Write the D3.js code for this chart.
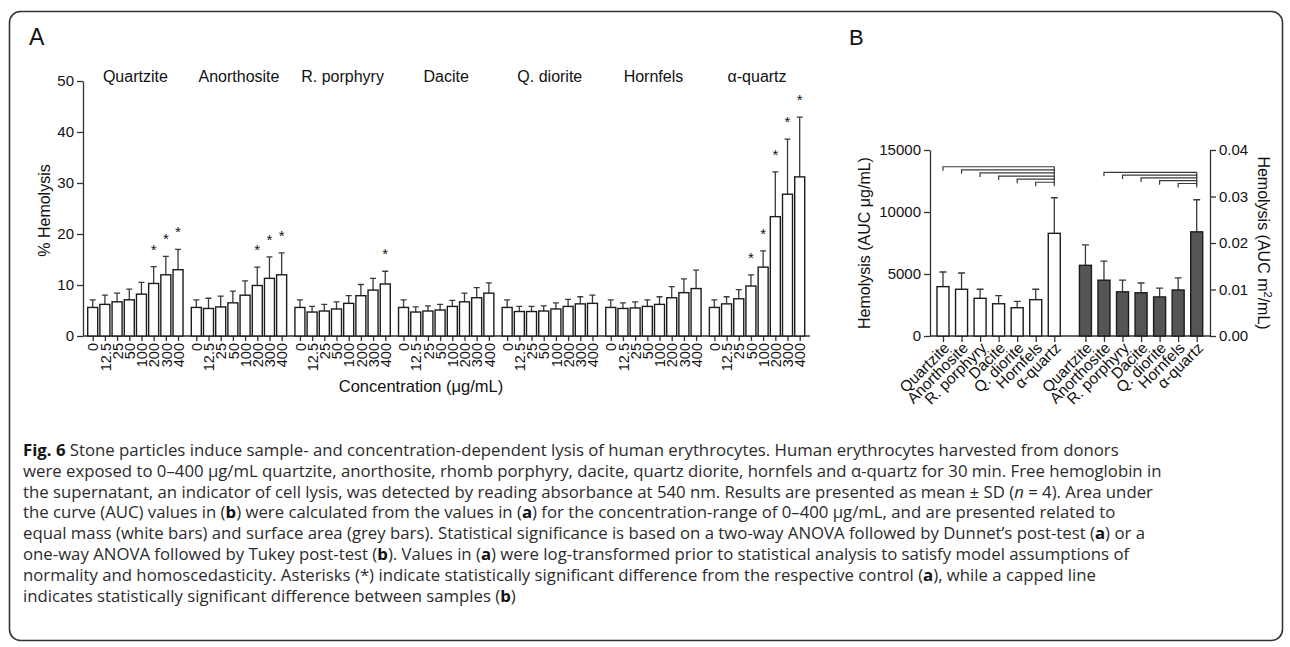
<!DOCTYPE html>
<html>
<head>
<meta charset="utf-8">
<script src="https://cdn.jsdelivr.net/npm/d3@7"></script>
<style>
  body { margin: 0; background: #fff; }
  svg text { font-family: "Liberation Sans", Arial, sans-serif; fill: #111; }
  .caption text { font-family: "Open Sans", "Noto Sans", sans-serif; fill: #2b2b2b; }
</style>
</head>
<body>
<svg id="fig" width="1290" height="647"></svg>
<script>
// ---- Panel A: % hemolysis per sample and concentration (mean, SD) ----
const samples = ["Quartzite", "Anorthosite", "R. porphyry", "Dacite", "Q. diorite", "Hornfels", "α-quartz"];
const concentrations = ["0", "12.5", "25", "50", "100", "200", "300", "400"];
const quartziteMean   = [5.6, 6.2, 6.7, 7.1, 8.2, 10.3, 12.0, 13.0];
const anorthositeMean = [5.6, 5.4, 5.7, 6.5, 8.0, 9.9, 11.3, 12.0];
const porphyryMean    = [5.6, 4.7, 4.9, 5.3, 6.4, 7.9, 9.0, 10.2];
const daciteMean      = [5.6, 4.7, 4.9, 5.1, 5.8, 6.7, 7.5, 8.4];
const dioriteMean     = [5.6, 4.8, 4.8, 4.9, 5.3, 5.8, 6.3, 6.4];
const hornfelsMean    = [5.6, 5.4, 5.5, 5.8, 6.2, 7.5, 8.5, 9.3];
const alphaQuartzMean = [5.6, 6.3, 7.3, 9.8, 13.5, 23.4, 27.8, 31.2];
const quartziteSD   = [1.5, 1.8, 1.7, 2.1, 2.3, 3.3, 3.6, 4.0];
const anorthositeSD = [1.5, 2.0, 2.1, 2.3, 2.8, 3.6, 4.2, 4.3];
const porphyrySD    = [1.5, 1.1, 1.3, 1.4, 1.5, 2.2, 2.3, 2.5];
const daciteSD      = [1.5, 1.0, 1.0, 1.1, 1.2, 1.7, 2.0, 2.0];
const dioriteSD     = [1.5, 1.0, 1.0, 1.0, 1.2, 1.4, 1.4, 1.6];
const hornfelsSD    = [1.5, 1.1, 1.2, 1.3, 1.5, 2.2, 2.7, 3.6];
const alphaQuartzSD = [1.5, 1.4, 1.8, 2.2, 3.2, 8.8, 10.8, 11.7];
// 1 = significantly different from the respective control
const quartziteSig   = [0, 0, 0, 0, 0, 1, 1, 1];
const anorthositeSig = [0, 0, 0, 0, 0, 1, 1, 1];
const porphyrySig    = [0, 0, 0, 0, 0, 0, 0, 1];
const daciteSig      = [0, 0, 0, 0, 0, 0, 0, 0];
const dioriteSig     = [0, 0, 0, 0, 0, 0, 0, 0];
const hornfelsSig    = [0, 0, 0, 0, 0, 0, 0, 0];
const alphaQuartzSig = [0, 0, 0, 1, 1, 1, 1, 1];
const yTicksA = [0, 10, 20, 30, 40, 50];

// ---- Panel B: AUC per equal mass (white) and per surface area (grey) ----
const aucMass     = [3980, 3770, 3040, 2600, 2280, 2930, 8280];
const aucMassSD   = [1180, 1310, 730, 650, 520, 840, 2870];
const aucArea     = [0.0152, 0.0120, 0.0095, 0.0093, 0.0084, 0.0099, 0.0224];
const aucAreaSD   = [0.0044, 0.0041, 0.0025, 0.0021, 0.0019, 0.0026, 0.0069];
const yTicksBLeft  = [0, 5000, 10000, 15000];
const yTicksBRight = [0, 0.01, 0.02, 0.03, 0.04];
// capped lines: each sample vs α-quartz
const massBracketFrom  = [0, 1, 2, 3, 4, 5];
const massBracketLevel = [13650, 13400, 13150, 12900, 12650, 12400];
const areaBracketFrom  = [1, 2, 3, 4, 5];
const areaBracketLevel = [0.0352, 0.0346, 0.0340, 0.0334, 0.0328];
const bracketTo = 6;

const meansA = [quartziteMean, anorthositeMean, porphyryMean, daciteMean, dioriteMean, hornfelsMean, alphaQuartzMean];
const sdsA   = [quartziteSD, anorthositeSD, porphyrySD, daciteSD, dioriteSD, hornfelsSD, alphaQuartzSD];
const sigsA  = [quartziteSig, anorthositeSig, porphyrySig, daciteSig, dioriteSig, hornfelsSig, alphaQuartzSig];

const svg = d3.select("#fig");
const ink = "#1c1c1c";
const lineInk = "#333";

// outer rounded frame
svg.append("rect")
  .attr("x", 9.5).attr("y", 11.5).attr("width", 1273).attr("height", 629).attr("rx", 11)
  .attr("fill", "none").attr("stroke", "#333").attr("stroke-width", 1.6);

function styleAxis(g, size) {
  g.attr("font-family", null).attr("font-size", null);
  g.selectAll("text").style("font-size", size + "px").attr("fill", "#111");
  g.selectAll("line").attr("stroke", lineInk).attr("stroke-width", 1.3);
  g.select(".domain").attr("stroke", lineInk).attr("stroke-width", 1.3);
}

// ================= Panel A =================
const plotA = { left: 83, right: 810, top: 81, bottom: 336 };
const groupStride = 8.5;
const yA = d3.scaleLinear().domain([0, 50]).range([plotA.bottom, plotA.top]);
const xA = d3.scaleLinear().domain([0, 58]).range([92.7, 799.7]);
const barWA = 10;

const rowsA = samples.flatMap((s, g) => concentrations.map((c, i) => ({
  g, i, slot: g * groupStride + i, mean: meansA[g][i], sd: sdsA[g][i], sig: sigsA[g][i]
})));

const gA = svg.append("g");

gA.append("text").attr("x", 29).attr("y", 45).style("font-size", "23px").text("A");

// y axis
const axYA = gA.append("g").attr("transform", `translate(${plotA.left},0)`)
  .call(d3.axisLeft(yA).tickValues(yTicksA).tickSize(6).tickPadding(3).tickSizeOuter(0));
styleAxis(axYA, 15);

// x axis with a tick under each bar
const axXA = gA.append("g").attr("transform", `translate(0,${plotA.bottom})`)
  .call(d3.axisBottom(xA).tickValues(rowsA.map(d => d.slot))
    .tickFormat((v, k) => concentrations[k % concentrations.length]).tickSize(5).tickSizeOuter(0));
styleAxis(axXA, 14.5);
axXA.select(".domain").remove();
axXA.selectAll(".tick text")
  .attr("transform", "rotate(-90)").attr("text-anchor", "end")
  .attr("x", -7).attr("y", 0).attr("dy", "0.36em");
gA.append("line").attr("x1", plotA.left).attr("x2", plotA.right)
  .attr("y1", plotA.bottom).attr("y2", plotA.bottom)
  .attr("stroke", lineInk).attr("stroke-width", 1.3);

// error bars
const errA = gA.append("g").attr("stroke", "#3a3a3a").attr("stroke-width", 1.3).attr("fill", "none");
errA.selectAll("path").data(rowsA).join("path")
  .attr("d", d => {
    const x = xA(d.slot), y0 = yA(d.mean), y1 = yA(d.mean + d.sd);
    return `M${x},${y0}V${y1}M${x - 3},${y1}H${x + 3}`;
  });

// bars
gA.append("g").selectAll("rect").data(rowsA).join("rect")
  .attr("x", d => xA(d.slot) - barWA / 2).attr("width", barWA)
  .attr("y", d => yA(d.mean)).attr("height", d => yA(0) - yA(d.mean))
  .attr("fill", "#fff").attr("stroke", ink).attr("stroke-width", 1.4);

// significance asterisks
gA.append("g").selectAll("text").data(rowsA.filter(d => d.sig)).join("text")
  .attr("x", d => xA(d.slot)).attr("y", d => yA(d.mean + d.sd) - 20 + 8)
  .attr("text-anchor", "middle").style("font-size", "15px").text("*");

// sample names
gA.append("g").selectAll("text").data(samples).join("text")
  .attr("x", (s, g) => xA(g * groupStride + 3.5)).attr("y", 82)
  .attr("text-anchor", "middle").style("font-size", "16px").text(d => d);

// axis titles
gA.append("text").attr("transform", `translate(50,${(plotA.top + plotA.bottom) / 2 + 2}) rotate(-90)`)
  .attr("text-anchor", "middle").style("font-size", "16px").text("% Hemolysis");
gA.append("text").attr("x", 421).attr("y", 392).attr("text-anchor", "middle")
  .style("font-size", "16.5px").text("Concentration (μg/mL)");

// ================= Panel B =================
const plotB = { left: 930, right: 1210, top: 150, bottom: 336 };
const greyOffset = 7.68;
const yBL = d3.scaleLinear().domain([0, 15000]).range([plotB.bottom, plotB.top]);
const yBR = d3.scaleLinear().domain([0, 0.04]).range([plotB.bottom, plotB.top]);
const xB = d3.scaleLinear().domain([0, 6 + greyOffset]).range([943, 1196.7]);
const barWB = 12;

const rowsB = [
  ...samples.map((s, i) => ({ i, slot: i, mean: aucMass[i], sd: aucMassSD[i], y: yBL, fill: "#fff" })),
  ...samples.map((s, i) => ({ i, slot: i + greyOffset, mean: aucArea[i], sd: aucAreaSD[i], y: yBR, fill: "#555" }))
];

const gB = svg.append("g");
gB.append("text").attr("x", 849).attr("y", 45).style("font-size", "22px").text("B");

const axYBL = gB.append("g").attr("transform", `translate(${plotB.left},0)`)
  .call(d3.axisLeft(yBL).tickValues(yTicksBLeft).tickFormat(d3.format("d")).tickSize(6).tickPadding(3).tickSizeOuter(0));
styleAxis(axYBL, 15);

const axYBR = gB.append("g").attr("transform", `translate(${plotB.right},0)`)
  .call(d3.axisRight(yBR).tickValues(yTicksBRight).tickFormat(d3.format(".2f")).tickSize(6).tickPadding(3).tickSizeOuter(0));
styleAxis(axYBR, 15);

const axXB = gB.append("g").attr("transform", `translate(0,${plotB.bottom})`)
  .call(d3.axisBottom(xB).tickValues(rowsB.map(d => d.slot))
    .tickFormat((v, k) => samples[k % samples.length]).tickSize(6).tickSizeOuter(0));
styleAxis(axXB, 15.5);
axXB.select(".domain").remove();
axXB.selectAll(".tick text")
  .attr("transform", "translate(3,9) rotate(-45)").attr("text-anchor", "end")
  .attr("x", 0).attr("y", 0).attr("dy", "0.36em");
gB.append("line").attr("x1", plotB.left).attr("x2", plotB.right)
  .attr("y1", plotB.bottom).attr("y2", plotB.bottom)
  .attr("stroke", lineInk).attr("stroke-width", 1.3);

// error bars
gB.append("g").attr("stroke", "#3a3a3a").attr("stroke-width", 1.3).attr("fill", "none")
  .selectAll("path").data(rowsB).join("path")
  .attr("d", d => {
    const x = xB(d.slot), y0 = d.y(d.mean), y1 = d.y(d.mean + d.sd);
    return `M${x},${y0}V${y1}M${x - 3.5},${y1}H${x + 3.5}`;
  });

// bars
gB.append("g").selectAll("rect").data(rowsB).join("rect")
  .attr("x", d => xB(d.slot) - barWB / 2).attr("width", barWB)
  .attr("y", d => d.y(d.mean)).attr("height", d => d.y(0) - d.y(d.mean))
  .attr("fill", d => d.fill).attr("stroke", ink).attr("stroke-width", 1.4);

// capped lines between samples
const bracketG = gB.append("g").attr("stroke", "#3a3a3a").attr("stroke-width", 1.2).attr("fill", "none");
const bracketPath = (x0, x1, y) => `M${x0},${y + 4}V${y}H${x1}V${y + 4}`;
bracketG.selectAll("path.mass").data(massBracketFrom).join("path").attr("class", "mass")
  .attr("d", (f, k) => bracketPath(xB(f), xB(bracketTo), yBL(massBracketLevel[k])));
bracketG.selectAll("path.area").data(areaBracketFrom).join("path").attr("class", "area")
  .attr("d", (f, k) => bracketPath(xB(f + greyOffset), xB(bracketTo + greyOffset), yBR(areaBracketLevel[k])));

// axis titles
const midB = (plotB.top + plotB.bottom) / 2;
gB.append("text").attr("transform", `translate(870,${midB}) rotate(-90)`)
  .attr("text-anchor", "middle").style("font-size", "16px").text("Hemolysis (AUC μg/mL)");
const rightTitle = gB.append("text").attr("transform", `translate(1258,${midB}) rotate(90)`)
  .attr("text-anchor", "middle").style("font-size", "16px");
rightTitle.append("tspan").text("Hemolysis (AUC m");
rightTitle.append("tspan").attr("baseline-shift", "super").style("font-size", "11px").text("2");
rightTitle.append("tspan").text("/mL)");

// ================= Caption =================
const captionLines = [
  [["Fig. 6", "b"], [" Stone particles induce sample- and concentration-dependent lysis of human erythrocytes. Human erythrocytes harvested from donors"]],
  [["were exposed to 0–400 µg/mL quartzite, anorthosite, rhomb porphyry, dacite, quartz diorite, hornfels and α-quartz for 30 min. Free hemoglobin in"]],
  [["the supernatant, an indicator of cell lysis, was detected by reading absorbance at 540 nm. Results are presented as mean ± SD ("], ["n", "i"], [" = 4). Area under"]],
  [["the curve (AUC) values in ("], ["b", "b"], [") were calculated from the values in ("], ["a", "b"], [") for the concentration-range of 0–400 µg/mL, and are presented related to"]],
  [["equal mass (white bars) and surface area (grey bars). Statistical significance is based on a two-way ANOVA followed by Dunnet’s post-test ("], ["a", "b"], [") or a"]],
  [["one-way ANOVA followed by Tukey post-test ("], ["b", "b"], ["). Values in ("], ["a", "b"], [") were log-transformed prior to statistical analysis to satisfy model assumptions of"]],
  [["normality and homoscedasticity. Asterisks (*) indicate statistically significant difference from the respective control ("], ["a", "b"], ["), while a capped line"]],
  [["indicates statistically significant difference between samples ("], ["b", "b"], [")"]]
];
const cap = svg.append("g").attr("class", "caption");
captionLines.forEach((parts, k) => {
  const t = cap.append("text").attr("x", 23).attr("y", 456 + k * 20.8).style("font-size", "16.75px");
  parts.forEach(([txt, st]) => {
    const sp = t.append("tspan").text(txt);
    if (st === "b") sp.style("font-weight", "bold").style("fill", "#111");
    if (st === "i") sp.style("font-style", "italic");
  });
});
</script>
</body>
</html>
